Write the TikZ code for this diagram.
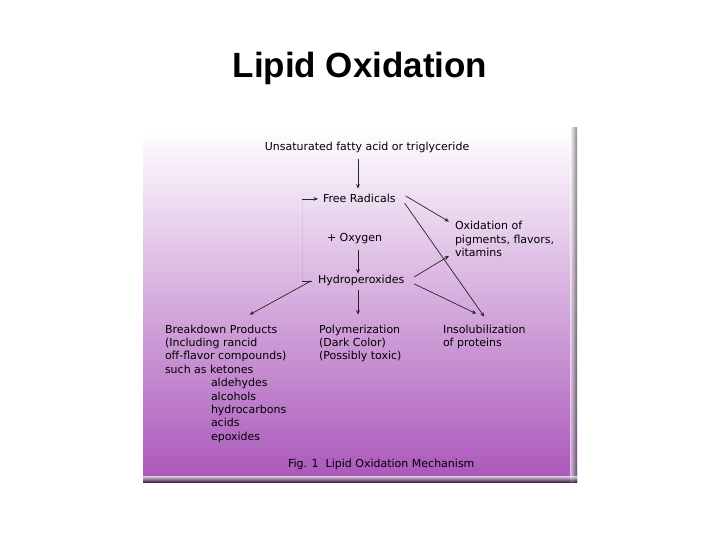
\documentclass[tikz,border=0pt]{standalone}
\usepackage{fontspec}
\setmainfont{DejaVu Sans}
\newfontfamily\titlefam{Liberation Sans}
\usepackage{tikz}
\usetikzlibrary{arrows.meta}
\definecolor{panelpurple}{RGB}{170,86,186}
\definecolor{panelmid}{RGB}{214,166,222}
\newcommand{\diagfont}{\fontsize{11bp}{13.4bp}\selectfont}
\tikzset{
  txt/.style={
    inner sep=0pt,
    outer sep=0pt,
    align=left,
    anchor=base west,
    font=\diagfont
  },
  arrow/.style={
    -{Stealth[length=4.5bp,width=3.8bp]},
    line width=.7bp,
    black!85
  },
  plain/.style={
    line width=.7bp,
    black!85
  },
  faint/.style={
    line width=.7bp,
    black,
    opacity=.07
  }
}

\begin{document}
\begin{tikzpicture}[x=1bp,y=-1bp]
\useasboundingbox (0,0) rectangle (720,540);
\node[font=\titlefam\bfseries\fontsize{35bp}{40bp}\selectfont,anchor=base,inner sep=0pt] (title) at (360,78) {Lipid Oxidation};
\shade[top color=white,middle color=panelmid,bottom color=panelpurple] (143,128) rectangle (577,482);
\shade[left color=black!0,right color=black!75,opacity=.6] (570,128) rectangle (577,482);
\shade[top color=black!0,bottom color=black!90,opacity=.7] (143,476) rectangle (577,482);
% multi-line nodes sit on the baseline of their last line
\node[txt,anchor=base] (src) at (367,151) {Unsaturated fatty acid or triglyceride};
\node[txt] (fr) at (323,203) {Free Radicals};
\node[txt] (oxy) at (327,242) {+ Oxygen};
\node[txt] (hyd) at (318,284) {Hydroperoxides};
\node[txt] (ox) at (455,256.8) {Oxidation of\\pigments, flavors,\\vitamins};
\node[txt] (brk) at (165,440.2) {Breakdown Products\\(Including rancid\\off-flavor compounds)\\such as ketones\\\hspace*{46bp}aldehydes\\\hspace*{46bp}alcohols\\\hspace*{46bp}hydrocarbons\\\hspace*{46bp}acids\\\hspace*{46bp}epoxides};
\node[txt] (poly) at (319,359.8) {Polymerization\\(Dark Color)\\(Possibly toxic)};
\node[txt] (ins) at (443,346.4) {Insolubilization\\of proteins};
\node[txt] (cap) at (288,467) {Fig. 1~~Lipid Oxidation Mechanism};
\coordinate (spine) at (358,0);
\coordinate (loopB) at ([xshift=-16bp]hyd.west);
\coordinate (loopT) at (loopB |- fr.west);
\draw[arrow] (src.south -| spine) ++(0,6) -- ([yshift=6bp]fr.north -| spine);
\draw[faint] (loopB) -- (loopT);
\draw[plain] ([xshift=-6bp]hyd.west) -- (loopB);
\draw[arrow] (loopT) -- ([xshift=-5bp]fr.west);
\draw[arrow] ([shift={(10bp,3bp)}]fr.east) -- ([xshift=-6bp]ox.north west);
\draw[arrow] ([xshift=9bp]fr.south east) -- ([yshift=8bp]ins.north);
\draw[arrow] ([shift={(10bp,4bp)}]hyd.east) -- ([shift={(-6bp,1bp)}]ox.south west);
\draw[arrow] ([shift={(10bp,-3bp)}]hyd.east) -- ([shift={(-8bp,11bp)}]ins.north);
\draw[arrow] (oxy.south -| spine) ++(0,6) -- ([yshift=2bp]hyd.north -| spine);
\draw[arrow] (hyd.south -| spine) ++(0,4) -- ([yshift=10bp]poly.north -| spine);
\draw[arrow] ([xshift=-7bp]hyd.west) -- ([shift={(24bp,10bp)}]brk.north);
\end{tikzpicture}
\end{document}
